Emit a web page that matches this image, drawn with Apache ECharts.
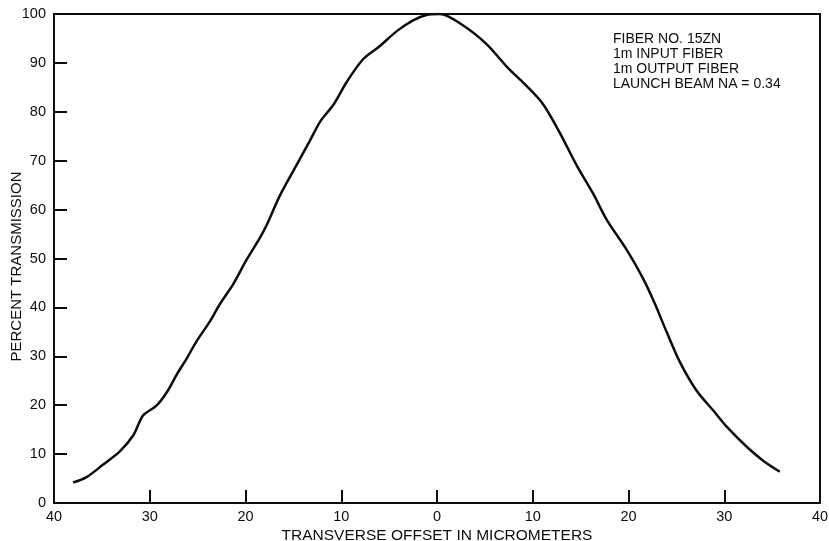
<!DOCTYPE html>
<html>
<head>
<meta charset="utf-8">
<script src="https://cdn.jsdelivr.net/npm/echarts@6/dist/echarts.min.js"></script>
<style>
html,body{margin:0;padding:0;background:#fff;}
#chart{width:829px;height:541px;}
</style>
</head>
<body>
<div id="chart"></div>
<script>
// Transverse offset (micrometers, negative = left side of figure)
var offsets = [-38.0,-36.6,-34.9,-33.1,-31.7,-30.7,-29.3,-28.2,-27.2,-26.1,-25.1,-23.7,-22.7,-21.3,-19.9,-18.5,-17.8,-16.4,-14.7,-13.3,-12.2,-10.8,-9.4,-7.7,-6.0,-4.2,-2.5,-1.1,0.3,2.7,5.2,7.3,9.4,11.1,12.8,14.6,16.3,17.7,19.8,21.5,22.7,24.0,25.4,27.1,28.9,30.3,32.4,34.1,35.8];
// Percent transmission
var transmission = [4.2,5.3,7.8,10.6,13.9,17.9,19.9,22.7,26.2,29.7,33.1,37.2,40.6,44.7,49.7,54.2,56.8,62.9,69.0,74.0,78.0,81.5,86.2,90.8,93.4,96.5,98.7,99.8,100,97.7,93.8,89.2,85.2,81.5,75.8,69.0,63.3,58.0,51.8,46.0,41.0,34.9,28.7,23.0,18.8,15.5,11.4,8.6,6.4];
var xTickValues = [-40,-30,-20,-10,0,10,20,30,40];
var xTickLabels = ['40','30','20','10','0','10','20','30','40'];
var notes = ['FIBER NO. 15ZN','1m INPUT FIBER','1m OUTPUT FIBER','LAUNCH BEAM NA = 0.34'];

var pts = offsets.map(function(x,i){return [x, transmission[i]];});
var font = '"Liberation Sans", Arial, Helvetica, sans-serif';
var ink = '#0d0d0d';

var chart = echarts.init(document.getElementById('chart'), null, {renderer:'canvas'});
chart.setOption({
  animation:false,
  backgroundColor:'#fff',
  grid:{left:54,right:9,top:14,bottom:38,outerBoundsMode:'none',containLabel:false,
    show:true,borderColor:ink,borderWidth:2,backgroundColor:'transparent'},
  xAxis:{
    type:'value',min:-40,max:40,interval:10,
    name:'TRANSVERSE OFFSET IN MICROMETERS',nameLocation:'middle',nameGap:25,nameMoveOverlap:false,
    nameTextStyle:{fontFamily:font,fontSize:15.5,color:ink},
    axisLine:{show:true,onZero:false,lineStyle:{color:ink,width:2}},
    axisTick:{show:true,inside:true,length:13,lineStyle:{color:ink,width:2}},
    axisLabel:{margin:6,fontFamily:font,fontSize:14.5,color:ink,
      formatter:function(v){var i=xTickValues.indexOf(v);return i>=0?xTickLabels[i]:'';}},
    splitLine:{show:false}
  },
  yAxis:{
    type:'value',min:0,max:100,interval:10,
    name:'PERCENT TRANSMISSION',nameLocation:'middle',nameGap:30,nameMoveOverlap:false,
    nameTextStyle:{fontFamily:font,fontSize:15,color:ink,padding:[0,16,0,0]},
    axisLine:{show:true,onZero:false,lineStyle:{color:ink,width:2}},
    axisTick:{show:true,inside:true,length:13,lineStyle:{color:ink,width:2}},
    axisLabel:{margin:8,fontFamily:font,fontSize:14.5,color:ink},
    splitLine:{show:false}
  },
  graphic:[{
    type:'text',left:613,top:32,
    style:{text:notes.join('\n'),fontFamily:font,fontSize:14,lineHeight:15,fill:ink}
  }],
  series:[{
    type:'line',data:pts,smooth:0.3,showSymbol:false,
    lineStyle:{color:ink,width:2.5}
  }]
});
</script>
</body>
</html>
